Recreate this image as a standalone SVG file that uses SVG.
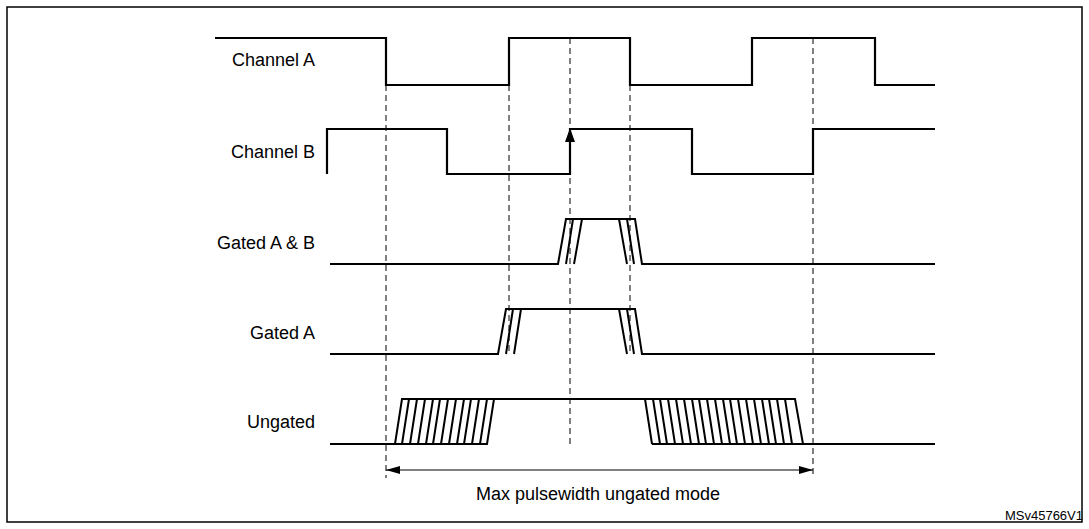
<svg xmlns="http://www.w3.org/2000/svg" width="1089" height="529" viewBox="0 0 1089 529">
<style>
.w{fill:none;stroke:#000;stroke-width:2.2}
.h{fill:none;stroke:#000;stroke-width:2}
.d{fill:none;stroke:#000;stroke-width:1;stroke-dasharray:6,4}
.l{font-family:"Liberation Sans",Arial,sans-serif;font-size:18px;fill:#000;text-anchor:end}
</style>
<defs>
<marker id="a" markerWidth="14" markerHeight="8" refX="14" refY="4" orient="auto-start-reverse" markerUnits="userSpaceOnUse"><path d="M0,0L14,4L0,8z" fill="#000"/></marker>
<marker id="b" markerWidth="14" markerHeight="10" refX="14" refY="5" orient="auto" markerUnits="userSpaceOnUse"><path d="M0,0L14,5L0,10z" fill="#000"/></marker>
</defs>
<rect x="7" y="7" width="1075" height="515" fill="#fff" stroke="#000" stroke-width="1.5"/>
<g id="labels">
<text class="l" x="315" y="66">Channel A</text>
<text class="l" x="315" y="158">Channel B</text>
<text class="l" x="315" y="249">Gated A &amp; B</text>
<text class="l" x="315" y="339">Gated A</text>
<text class="l" x="315" y="428">Ungated</text>
</g>
<g id="connectors">
<path class="d" d="M386,85V478M509,85V355M570,38V445M630,85V355M813,38V478"/>
<line x1="386" y1="470" x2="813" y2="470" stroke="#000" stroke-width="1.2" marker-start="url(#a)" marker-end="url(#a)"/>
</g>
<g id="channelA"><path class="w" d="M215,38H386V85H509V38H630V85H752V38H875V85H935"/></g>
<g id="channelB"><path class="w" d="M327,174V129H447V174H570V129H692V174H813V129H935"/>
<line x1="570" y1="174" x2="570" y2="128" stroke="#000" stroke-width="2" marker-end="url(#b)"/></g>
<g id="gatedAB"><path class="h" d="M330,264H558L566,219H635L642,264H935M574,264L582,219M566,264L573,219M619,219L627,264M627,219L634,264"/></g>
<g id="gatedA"><path class="h" d="M330,354H498L506,309H635L642,354H935M514,354L521,309M506,354L513,309M619,309L627,354M627,309L634,354"/></g>
<g id="ungated"><path class="h" d="M330,444H395L402,399H795L803,444H935M395,444H487L494,399M652,444H803M645,399L652,444
M402,444L409,399M410,444L417,399M418,444L425,399M426,444L433,399M433,444L440,399M441,444L448,399M449,444L456,399M457,444L464,399M464,444L471,399M472,444L479,399M480,444L487,399
M660,444L653,399M667,444L660,399M675,444L668,399M683,444L676,399M691,444L684,399M699,444L692,399M706,444L699,399M714,444L707,399M722,444L715,399M730,444L723,399M737,444L730,399M745,444L738,399M753,444L746,399M761,444L754,399M769,444L762,399M776,444L769,399M784,444L777,399M792,444L785,399"/></g>
<text x="598" y="500" font-family="Liberation Sans,Arial,sans-serif" font-size="18" text-anchor="middle">Max pulsewidth ungated mode</text>
<text x="1083" y="520" font-family="Liberation Sans,Arial,sans-serif" font-size="13" text-anchor="end">MSv45766V1</text>
</svg>
